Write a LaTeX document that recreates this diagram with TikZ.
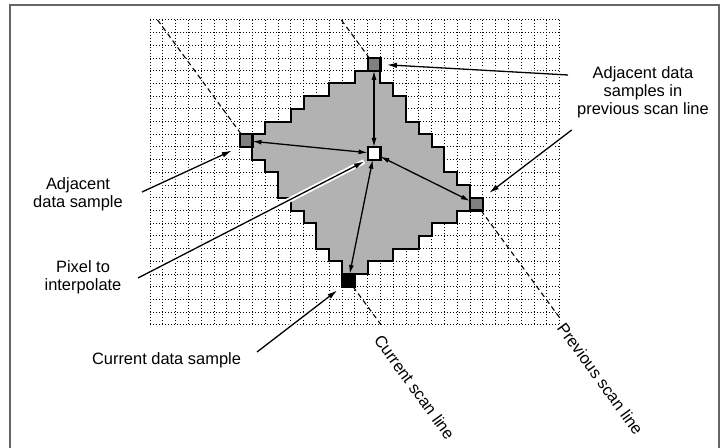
\documentclass[tikz,border=0pt]{standalone}
\usepackage{fontspec}
\setmainfont{Liberation Sans}
\usetikzlibrary{arrows.meta}
\begin{document}
\begin{tikzpicture}[x=1bp,y=-1bp,
  lbl/.style={align=center, font=\fontsize{16.5}{18}\selectfont, inner sep=0pt},
  gridline/.style={line width=1bp, dash pattern=on 1bp off 2bp, black},
  scanline/.style={line width=1.1bp, dash pattern=on 5bp off 3.5bp},
  smp/.style={draw=black, line width=2.2bp, minimum width=12.8bp, minimum height=12.7bp, inner sep=0pt, outer sep=0pt},
  dbl/.style={{Latex[length=9bp,width=5bp]}-{Latex[length=9bp,width=5bp]}, line width=1.3bp},
  leader/.style={-{Latex[length=10bp,width=5.5bp]}, line width=1.3bp,
     preaction={draw=white, line width=5bp, arrows=-}},
  frame/.style={draw=black!60, line width=1.5bp}
]
\useasboundingbox (0,0) rectangle (728,448);
\draw[frame] (10,448) -- (10,5) -- (719,5) -- (719,448);

\begin{scope}[shift={(150,20)}, x=12.8bp, y=-12.7bp]
  % grid
  \foreach \i in {0,...,32} \draw[gridline] (\i,0) -- (\i,24);
  \foreach \j in {0,...,24} \draw[gridline] (0,\j) -- (32,\j);
  % shaded region
  \filldraw[fill=black!30, draw=black, line width=2bp, line join=miter]
    (17,4) -- (16,4) -- (16,5) -- (14,5) -- (14,6) -- (12,6) -- (12,7) -- (11,7) -- (11,8)
    -- (9,8) -- (9,9) -- (8,9) -- (8,11) -- (9,11) -- (9,12) -- (10,12) -- (10,14) -- (11,14)
    -- (11,15) -- (12,15) -- (12,16) -- (13,16) -- (13,18) -- (14,18) -- (14,19) -- (15,19)
    -- (15,20) -- (17,20) -- (17,19) -- (19,19) -- (19,18) -- (21,18) -- (21,17) -- (22,17)
    -- (22,16) -- (24,16) -- (24,15) -- (25,15) -- (25,13) -- (24,13) -- (24,12) -- (23,12)
    -- (23,10) -- (22,10) -- (22,9) -- (21,9) -- (21,8) -- (20,8) -- (20,6) -- (19,6)
    -- (19,5) -- (18,5) -- (18,4) -- cycle;
  % samples
  \node[smp, fill=black!50] (ts) at (17.5,3.5) {};
  \node[smp, fill=black!50] (ls) at (7.5,9.5) {};
  \node[smp, fill=black!50] (rs) at (25.5,14.5) {};
  \node[smp, fill=white] (ctr) at (17.5,10.5) {};
  \node[smp, fill=black] (cs) at (15.5,20.5) {};
  % scan lines
  \coordinate (cTop) at (0.59,0);
  \coordinate (cBot) at (18.05,24);
  \coordinate (pTop) at (14.95,0);
  \coordinate (pBot) at (32,23.44);
\end{scope}

\draw[scanline] (cTop) -- (ls);
\draw[scanline] (cs) -- (cBot);
\draw[scanline] (pTop) -- (ts);
\draw[scanline] (rs) -- (pBot);

% interpolation arrows
\draw[dbl] (ts) -- (ctr);
\draw[dbl] (ls) -- (ctr);
\draw[dbl] (ctr) -- (rs);
\draw[dbl] (ctr) -- (cs);

% labels
\node[lbl] (lAdj) at (78,194) {Adjacent\\data sample};
\node[lbl] (lPix) at (83,277) {Pixel to\\interpolate};
\node[lbl] (lCur) at (166.5,360) {Current data sample};
\node[lbl] (lPrev) at (643,92.5) {Adjacent data\\samples in\\previous scan line};
\node[lbl, rotate=-54, anchor=north west] (lCsl) at (383,333) {Current scan line};
\node[lbl, rotate=-54, anchor=north west] (lPsl) at (566,321) {Previous scan line};

% leaders
\coordinate (aAdj) at (142,192);
\coordinate (aPix) at (138,278);
\coordinate (aCur) at (257,352);
\coordinate (aTop) at (568,75);
\coordinate (aRgt) at (571.7,130);
\draw[leader, shorten >=8.5bp] (aAdj) -- (ls.south west);
\draw[leader, shorten >=4bp] (aPix) -- (ctr.south west);
\draw[leader, shorten >=6bp] (aCur) -- (cs.south west);
\draw[leader, shorten >=6.5bp] (aTop) -- (ts.east);
\draw[leader, shorten >=8bp] (aRgt) -- (rs.north east);
\end{tikzpicture}
\end{document}
